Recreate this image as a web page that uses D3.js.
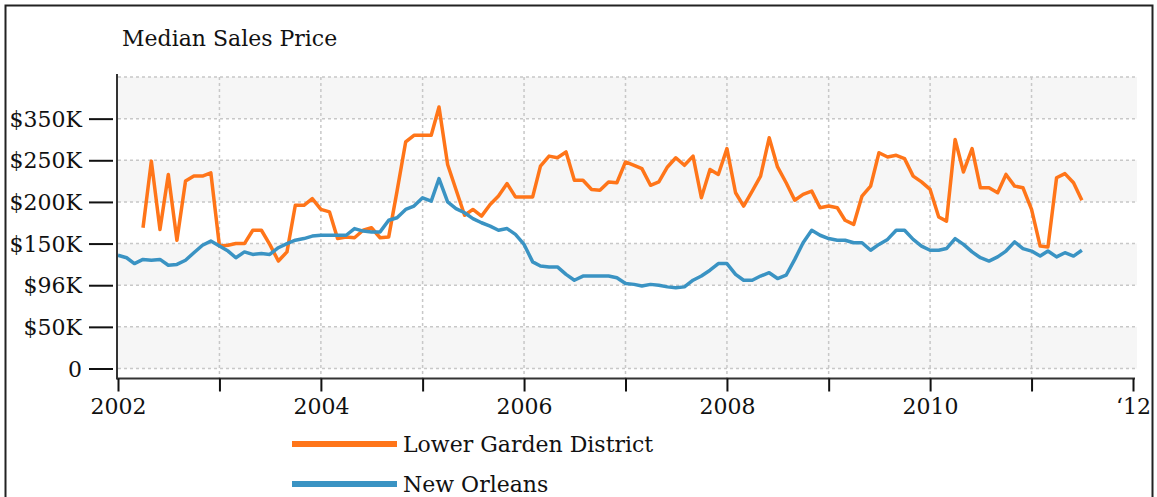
<!DOCTYPE html>
<html>
<head>
<meta charset="utf-8">
<script src="https://cdnjs.cloudflare.com/ajax/libs/d3/7.8.5/d3.min.js"></script>
<style>
  body { margin: 0; background: #fff; }
  text { font-family: "DejaVu Serif", serif; fill: #111; }
</style>
</head>
<body>
<script>
// monthly medians, starting January 2002 (null = no sales recorded)
var startYear = 2002,
    seriesNames = ["Lower Garden District", "New Orleans"],
    seriesColors = ["#ff7519", "#3a93c3"];

var lowerGarden = [null, null, null,
    169, 249, 167, 233, 154, 225, 231, 231, 235,
    147, 148, 150, 150, 166, 166, 149, 129, 140, 196, 196, 204, 191,
    188, 156, 158, 157, 166, 169, 157, 158, 213, 272, 280, 280, 280, 314, 245, 215, 184, 191, 183, 197, 207, 222, 206, 206, 206,
    243, 255, 253, 260, 226, 226, 215, 214, 224, 223, 248, 244, 240, 220, 224, 242, 253, 244, 255, 205, 239, 233, 264, 211, 195,
    213, 231, 277, 242, 223, 202, 209, 213, 193, 195, 193, 178, 173, 207, 219, 259, 254, 256, 252, 231, 224, 215, 182, 177, 275,
    236, 264, 217, 217, 211, 233, 219, 217, 191, 147, 146, 229, 234, 223, 202];

var newOrleans = [
    136, 133, 126, 131, 130, 131, 124, 125, 130, 139, 148, 153, 147, 141, 133, 140, 137, 138, 137, 145, 150, 154, 156, 159, 160,
    160, 160, 160, 168, 165, 164, 164, 178, 181, 191, 195, 205, 201, 228, 200, 192, 187, 180, 175, 171, 166, 168, 161, 149, 128,
    123, 122, 122, 113, 106, 111, 111, 111, 111, 109, 102, 101, 99, 101, 100, 98, 97, 98, 106, 111, 118, 126, 126, 113, 106,
    106, 111, 115, 108, 112, 131, 151, 166, 160, 156, 154, 154, 151, 151, 142, 149, 155, 166, 166, 155, 147, 142, 142, 144, 156,
    149, 140, 133, 129, 134, 141, 152, 144, 141, 135, 141, 134, 139, 135, 142];

// y ticks (thousands) and the labels printed next to them
var yTickValues = [0, 50, 100, 150, 200, 250, 300],
    yTickLabels = ["0", "$50K", "$96K", "$150K", "$200K", "$250K", "$350K"],
    yGridValues = [0, 50, 100, 150, 200, 250, 300, 350],
    xTickYears = [2002, 2003, 2004, 2005, 2006, 2007, 2008, 2009, 2010, 2011, 2012],
    xTickLabels = ["2002", "", "2004", "", "2006", "", "2008", "", "2010", "", "\u201812"];

// set up variables
var canvasWidth = 1157,
    canvasHeight = 497,
    plotLeft = 118,
    plotRight = 1133,
    bandRight = 1137,
    plotTop = 77,
    zeroY = 368.5,
    axisY = 378.5;

var figure = d3.select("body")
    .append("svg")
        .attr("width", canvasWidth)
        .attr("height", canvasHeight);

// outer frame (runs off the bottom of the picture)
figure.append("rect")
    .attr("x", 5.5)
    .attr("y", 5.5)
    .attr("width", 1147)
    .attr("height", 520)
    .attr("fill", "none")
    .attr("stroke", "#222")
    .attr("stroke-width", 2);

var x = d3.scaleTime()
    .domain([new Date(2002, 0, 1), new Date(2012, 0, 1)])
    .range([plotLeft, plotRight]);
var y = d3.scaleLinear()
    .domain([0, 350])
    .range([zeroY, plotTop]);

function month(i) { return new Date(startYear, i, 1); }

// alternating background bands
figure.append("g")
    .selectAll("rect")
    .data([0, 100, 200, 300])
    .enter()
    .append("rect")
    .attr("x", plotLeft)
    .attr("y", function(d) { return y(d + 50); })
    .attr("width", bandRight - plotLeft)
    .attr("height", function(d) { return y(d) - y(d + 50); })
    .attr("fill", "#f6f6f6");

// dashed grid
figure.append("g")
    .selectAll("line")
    .data(yGridValues)
    .enter()
    .append("line")
    .attr("x1", plotLeft)
    .attr("x2", bandRight)
    .attr("y1", function(d) { return y(d); })
    .attr("y2", function(d) { return y(d); })
    .attr("stroke", "#c8c8c8")
    .attr("stroke-width", 1.5)
    .attr("stroke-dasharray", "3,3");

figure.append("g")
    .selectAll("line")
    .data(xTickYears.slice(1, -1))
    .enter()
    .append("line")
    .attr("x1", function(d) { return x(new Date(d, 0, 1)); })
    .attr("x2", function(d) { return x(new Date(d, 0, 1)); })
    .attr("y1", plotTop)
    .attr("y2", axisY)
    .attr("stroke", "#c8c8c8")
    .attr("stroke-width", 1.5)
    .attr("stroke-dasharray", "3,3");

// the two lines
var line = d3.line()
    .defined(function(d) { return d != null; })
    .x(function(d, i) { return x(month(i)); })
    .y(function(d) { return y(d); });

figure.append("g")
    .selectAll("path")
    .data([lowerGarden, newOrleans])
    .enter()
    .append("path")
    .attr("d", line)
    .attr("fill", "none")
    .attr("stroke", function(d, i) { return seriesColors[i]; })
    .attr("stroke-width", 3.5)
    .attr("stroke-linejoin", "round");

// y axis
var yAxis = figure.append("g")
    .attr("transform", "translate(" + 117 + ", " + 0 + ")")
    .call(d3.axisLeft(y)
        .tickValues(yTickValues)
        .tickSize(24)
        .tickPadding(8)
        .tickFormat(function(d, i) { return yTickLabels[i]; }));
yAxis.select(".domain")
    .attr("d", "M0,74V" + (axisY + 1));
yAxis.selectAll(".tick line")
    .attr("x2", -28)
    .attr("x1", -4)
    .attr("stroke", "#111")
    .attr("stroke-width", 2);
yAxis.selectAll(".tick text")
    .attr("x", -35)
    .attr("dy", "0.35em")
    .style("font-size", "22px")
    .style("font-family", "DejaVu Serif");
yAxis.select(".domain")
    .attr("stroke", "#333")
    .attr("stroke-width", 2);

// x axis
var xAxis = figure.append("g")
    .attr("transform", "translate(" + 0 + ", " + axisY + ")")
    .call(d3.axisBottom(x)
        .tickValues(xTickYears.map(function(d) { return new Date(d, 0, 1); }))
        .tickSize(13)
        .tickPadding(8)
        .tickFormat(function(d, i) { return xTickLabels[i]; }));
xAxis.select(".domain")
    .attr("d", "M" + 117 + ",0H" + (plotRight + 2))
    .attr("stroke", "#333")
    .attr("stroke-width", 2);
xAxis.selectAll(".tick line")
    .attr("stroke", "#111")
    .attr("stroke-width", 2);
xAxis.selectAll(".tick text")
    .attr("y", 20)
    .attr("dy", "0.71em")
    .style("font-size", "22px")
    .style("font-family", "DejaVu Serif");

// title
figure.append("text")
    .attr("x", 122)
    .attr("y", 46)
    .style("font-size", "22px")
    .text("Median Sales Price");

// legend
var legend = figure.append("g")
    .selectAll("g")
    .data(seriesNames)
    .enter()
    .append("g")
    .attr("transform", function(d, i) { return "translate(292, " + (444 + i * 40) + ")"; });
legend.append("line")
    .attr("x1", 0)
    .attr("x2", 105)
    .attr("stroke", function(d, i) { return seriesColors[i]; })
    .attr("stroke-width", 6);
legend.append("text")
    .attr("x", 111)
    .attr("dy", "0.35em")
    .style("font-size", "22px")
    .text(function(d) { return d; });
</script>
</body>
</html>
